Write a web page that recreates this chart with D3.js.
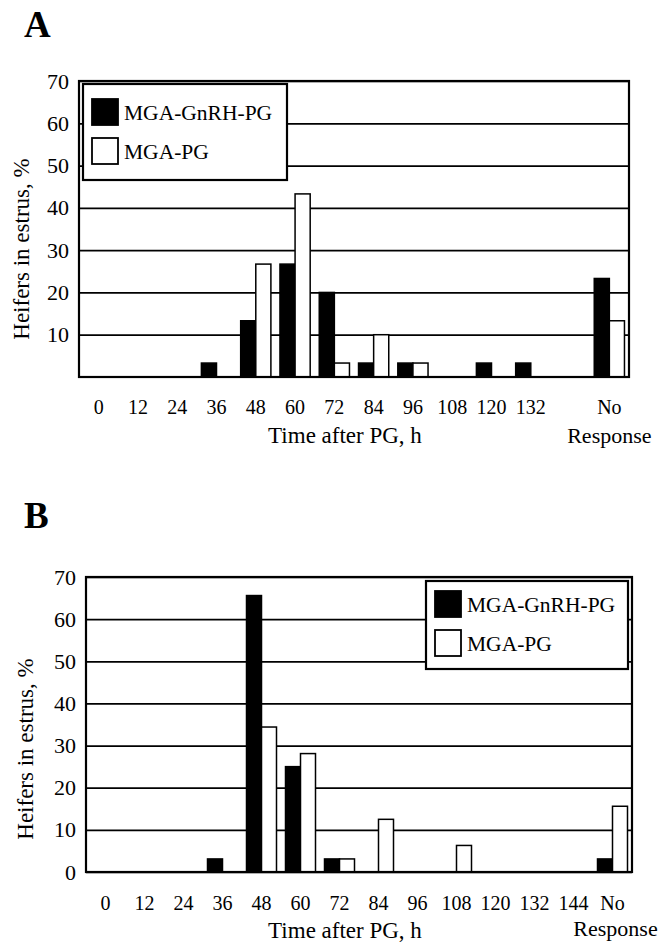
<!DOCTYPE html>
<html>
<head>
<meta charset="utf-8">
<script src="https://cdn.jsdelivr.net/npm/d3@7"></script>
<style>
  html, body { margin: 0; padding: 0; background: #fff; }
</style>
</head>
<body>
<div id="chart"></div>
<script>
// ---- data ----
const slots = ['0','12','24','36','48','60','72','84','96','108','120','132','144','NR'];
const labelsA = ['0','12','24','36','48','60','72','84','96','108','120','132','','No'];
const labelsB = ['0','12','24','36','48','60','72','84','96','108','120','132','144','No'];
const seriesNames = ['MGA-GnRH-PG', 'MGA-PG'];

// panel A (n = 30)
const gnrhA = [0, 0, 0, 3.3, 13.3, 26.7, 20, 3.3, 3.3, 0, 3.3, 3.3, 0, 23.3];
const pgA   = [0, 0, 0, 0, 26.7, 43.3, 3.3, 10, 3.3, 0, 0, 0, 0, 13.3];
// panel B (n = 32)
const gnrhB = [0, 0, 0, 3.1, 65.6, 25, 3.1, 0, 0, 0, 0, 0, 0, 3.1];
const pgB   = [0, 0, 0, 0, 34.4, 28.1, 3.1, 12.5, 0, 6.3, 0, 0, 0, 15.6];

const yTicksA = [10, 20, 30, 40, 50, 60, 70];
const yTicksB = [0, 10, 20, 30, 40, 50, 60, 70];

const FONT = 'Liberation Serif';
const W = 659, H = 948;
const svg = d3.select('#chart').append('svg')
  .attr('width', W).attr('height', H)
  .style('font-family', FONT);

function drawPanel(p) {
  const g = svg.append('g');

  const x = d3.scaleBand().domain(slots).range([p.left, p.right]).padding(0);
  const inner = d3.scaleBand().domain(seriesNames).range([0, x.bandwidth()])
    .paddingInner(0).paddingOuter(0.3);
  const y = d3.scaleLinear().domain([0, 70]).range([p.bottom, p.top]);

  // gridlines + y labels
  const yAxis = g.append('g')
    .attr('transform', `translate(${p.left},0)`)
    .call(d3.axisLeft(y).tickValues(p.yTicks).tickSize(-(p.right - p.left)).tickPadding(10));
  yAxis.attr('font-family', null);
  yAxis.select('.domain').remove();
  yAxis.selectAll('.tick line').attr('stroke', '#000').attr('stroke-width', 1.7);
  yAxis.selectAll('.tick text')
    .attr('font-size', 22)
    .style('font-family', FONT);

  // x labels
  const xAxis = g.append('g')
    .attr('transform', `translate(0,${p.bottom})`)
    .call(d3.axisBottom(x).tickSize(0).tickPadding(p.xPad)
      .tickFormat((d, i) => p.labels[i]));
  xAxis.attr('font-family', null);
  xAxis.select('.domain').remove();
  xAxis.selectAll('.tick text')
    .attr('font-size', 20)
    .style('font-family', FONT);

  g.append('text')
    .attr('x', x('NR') + x.bandwidth() / 2 + p.respDx)
    .attr('y', p.respY)
    .attr('text-anchor', 'middle')
    .attr('font-size', 22)
    .style('font-family', FONT)
    .text('Response');

  // bars
  const rows = slots.map((s, i) => ({ slot: s, a: p.black[i], b: p.white[i] }));
  const barG = g.append('g');
  barG.selectAll('rect.black')
    .data(rows.filter(d => d.a > 0))
    .join('rect')
    .attr('class', 'black')
    .attr('x', d => x(d.slot) + inner(seriesNames[0]))
    .attr('width', inner.bandwidth())
    .attr('y', d => y(d.a))
    .attr('height', d => y(0) - y(d.a))
    .attr('fill', '#000')
    .attr('stroke', '#000')
    .attr('stroke-width', 1.5);
  barG.selectAll('rect.white')
    .data(rows.filter(d => d.b > 0))
    .join('rect')
    .attr('class', 'white')
    .attr('x', d => x(d.slot) + inner(seriesNames[1]))
    .attr('width', inner.bandwidth())
    .attr('y', d => y(d.b))
    .attr('height', d => y(0) - y(d.b))
    .attr('fill', '#fff')
    .attr('stroke', '#000')
    .attr('stroke-width', 1.5);

  // plot frame
  g.append('rect')
    .attr('x', p.left).attr('y', p.top)
    .attr('width', p.right - p.left).attr('height', p.bottom - p.top)
    .attr('fill', 'none').attr('stroke', '#000').attr('stroke-width', 2.2);

  // axis titles
  g.append('text')
    .attr('x', p.xTitleX).attr('y', p.xTitleY)
    .attr('text-anchor', 'middle')
    .attr('font-size', 23)
    .style('font-family', FONT)
    .text('Time after PG, h');

  g.append('text')
    .attr('transform', `translate(${p.yTitleX},${p.yTitleY}) rotate(-90)`)
    .attr('text-anchor', 'middle')
    .attr('font-size', 23)
    .style('font-family', FONT)
    .text('Heifers in estrus, %');

  // panel letter
  g.append('text')
    .attr('x', 24).attr('y', p.letterY)
    .attr('font-size', 37)
    .attr('font-weight', 'bold')
    .style('font-family', FONT)
    .text(p.letter);

  // legend
  const lg = g.append('g').attr('transform', `translate(${p.legX},${p.legY})`);
  lg.append('rect')
    .attr('width', p.legW).attr('height', p.legH)
    .attr('fill', '#fff').attr('stroke', '#000').attr('stroke-width', 2.2);
  seriesNames.forEach((name, i) => {
    const yy = p.legRow0 + i * p.legRowStep;
    lg.append('rect')
      .attr('x', 9).attr('y', yy)
      .attr('width', 26).attr('height', 26)
      .attr('fill', i === 0 ? '#000' : '#fff')
      .attr('stroke', '#000').attr('stroke-width', 1.8);
    lg.append('text')
      .attr('x', 41).attr('y', yy + 21)
      .attr('font-size', 21.5)
      .style('font-family', FONT)
      .text(name);
  });
}

drawPanel({
  letter: 'A', letterY: 37,
  left: 79, right: 629, top: 81, bottom: 377,
  yTicks: yTicksA, labels: labelsA,
  black: gnrhA, white: pgA,
  xPad: 23, respY: 443, respDx: 0,
  xTitleX: 345, xTitleY: 443,
  yTitleX: 29, yTitleY: 249,
  legX: 83, legY: 84, legW: 204, legH: 96,
  legRow0: 15, legRowStep: 39
});

drawPanel({
  letter: 'B', letterY: 528,
  left: 86, right: 632, top: 577, bottom: 872,
  yTicks: yTicksB, labels: labelsB,
  black: gnrhB, white: pgB,
  xPad: 24, respY: 936, respDx: 3,
  xTitleX: 345, xTitleY: 938,
  yTitleX: 33, yTitleY: 749,
  legX: 426, legY: 581, legW: 202, legH: 88,
  legRow0: 10, legRowStep: 39
});
</script>
</body>
</html>
